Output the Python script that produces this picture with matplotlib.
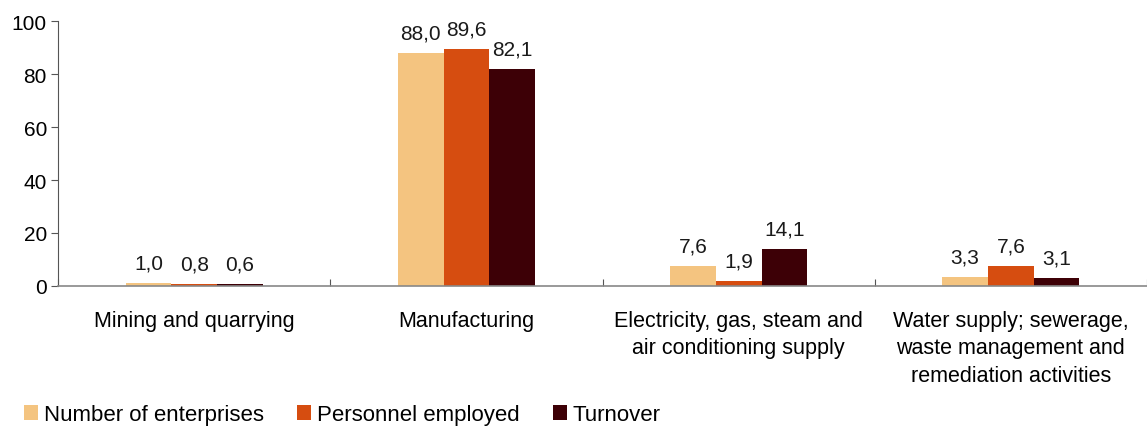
import matplotlib
matplotlib.use("Agg")
import matplotlib.pyplot as plt
import numpy as np

plt.rcParams['font.family'] = ['Liberation Sans', 'DejaVu Sans']

categories = [
    "Mining and quarrying",
    "Manufacturing",
    "Electricity, gas, steam and\nair conditioning supply",
    "Water supply; sewerage,\nwaste management and\nremediation activities",
]
series_names = ["Number of enterprises", "Personnel employed", "Turnover"]
enterprises = [1.0, 88.0, 7.6, 3.3]
personnel = [0.8, 89.6, 1.9, 7.6]
turnover = [0.6, 82.1, 14.1, 3.1]

colors = ["#F4C480", "#D64D10", "#3D0006"]


def fmt(v):
    return ("%.1f" % v).replace(".", ",")


def main():
    fig = plt.figure(figsize=(11.47, 4.27), dpi=100)
    ax = fig.add_axes([0.0506, 0.328, 0.9494, 0.62])

    x = np.arange(len(categories))
    w = 0.168
    for i, (vals, name) in enumerate(zip([enterprises, personnel, turnover], series_names)):
        bars = ax.bar(x + (i - 1) * w, vals, w, color=colors[i], label=name)
        for b, v in zip(bars, vals):
            ax.text(b.get_x() + b.get_width() / 2, v + 4.0, fmt(v),
                    ha='center', va='bottom', fontsize=15, color='#1a1a1a')

    ax.set_xlim(-0.5, len(categories) - 0.5)
    ax.set_ylim(0, 100)
    ax.set_yticks([0, 20, 40, 60, 80, 100])
    ax.tick_params(axis='y', labelsize=15, direction='out', length=5,
                   color='#555555', pad=3)

    ax.set_xticks(np.arange(len(categories) + 1) - 0.5)
    ax.set_xticklabels([])
    ax.tick_params(axis='x', which='major', direction='in', length=5, color='#555555')
    ax.set_xticks(x, minor=True)
    ax.set_xticklabels(categories, minor=True, fontsize=15.5, linespacing=1.42)
    ax.tick_params(axis='x', which='minor', length=0, pad=17)

    for s in ['top', 'right']:
        ax.spines[s].set_visible(False)
    ax.spines['left'].set_color('#555555')
    ax.spines['bottom'].set_color('#888888')
    ax.spines['bottom'].set_linewidth(1.2)

    ax.legend(loc='center left', bbox_to_anchor=(-0.0312, -0.487), ncol=3, frameon=False,
              fontsize=16, handlelength=0.62, handleheight=0.62, handletextpad=0.27,
              columnspacing=1.5, borderaxespad=0, borderpad=0)

    fig.savefig("out.png", dpi=100)


if __name__ == "__main__":
    main()
